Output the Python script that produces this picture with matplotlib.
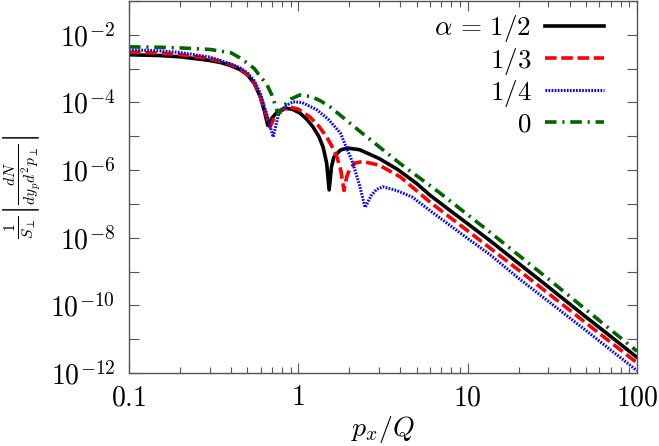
import matplotlib
matplotlib.use("Agg")
import math
import matplotlib.pyplot as plt
from matplotlib.ticker import LogLocator, FixedLocator, NullFormatter, FuncFormatter

plt.rcParams['mathtext.fontset'] = 'cm'
plt.rcParams['font.family'] = ['DejaVu Serif']

# --- data ---
x_half = [0.1, 0.15, 0.2, 0.263, 0.3, 0.35, 0.395, 0.45, 0.5, 0.55, 0.595, 0.63, 0.66,
          0.70, 0.75, 0.83, 0.92, 1.02, 1.12, 1.22, 1.32, 1.40, 1.47, 1.52, 1.57, 1.62,
          1.77, 1.94, 2.3, 3.0, 3.83, 5.0, 6.0, 8.0, 10, 13.5, 20, 30, 50, 70, 100]
y_half = [2.57e-3, 2.45e-3, 2.24e-3, 1.9e-3, 1.74e-3, 1.5e-3, 1.25e-3, 9.5e-4, 6.6e-4, 3.6e-4,
          1.5e-4, 5.6e-5, 2.1e-5, 3.5e-5, 5.2e-5, 6.8e-5, 6.3e-5, 4.9e-5, 3.2e-5, 1.9e-5,
          1.0e-5, 4.8e-6, 1.6e-6, 2.6e-7, 1.26e-6, 2.4e-6, 3.9e-6, 4.5e-6, 4.0e-6, 2.2e-6,
          1.07e-6, 4.0e-7, 1.8e-7, 6.0e-8, 2.6e-8, 8.3e-9, 1.74e-9, 3.5e-10, 4.5e-11,
          1.2e-11, 2.9e-12]

x_third = [0.1, 0.15, 0.2, 0.3, 0.395, 0.45, 0.5, 0.55, 0.6, 0.64, 0.68, 0.72, 0.78, 0.89,
           1.0, 1.17, 1.32, 1.47, 1.6, 1.69, 1.78, 1.86, 1.93, 2.0, 2.15, 2.4, 3.0, 4.0,
           6.0, 10, 20, 50, 100]
y_third = [3.1e-3, 2.9e-3, 2.6e-3, 2.0e-3, 1.35e-3, 1.0e-3, 6.8e-4, 3.8e-4, 1.4e-4, 5.0e-5,
           1.86e-5, 3.5e-5, 5.6e-5, 7.4e-5, 6.3e-5, 3.7e-5, 2.0e-5, 9.5e-6, 4.5e-6, 2.45e-6,
           1.0e-6, 2.5e-7, 6.3e-7, 1.0e-6, 1.6e-6, 1.8e-6, 1.4e-6, 6.3e-7, 1.12e-7, 1.6e-8,
           1.1e-9, 3.0e-11, 2.0e-12]

x_quarter = [0.1, 0.15, 0.2, 0.3, 0.395, 0.45, 0.5, 0.55, 0.6, 0.65, 0.71, 0.76, 0.84, 0.93,
             1.05, 1.29, 1.5, 1.77, 2.1, 2.3, 2.42, 2.48, 2.7, 2.9, 3.16, 3.8, 4.7, 6.0, 10,
             13.5, 20, 50, 100]
y_quarter = [3.6e-3, 3.4e-3, 3.0e-3, 2.2e-3, 1.4e-3, 1.08e-3, 7.6e-4, 4.3e-4, 1.7e-4, 4.5e-5,
             9.5e-6, 4.0e-5, 7.9e-5, 1.05e-4, 1.0e-4, 6.0e-5, 3.2e-5, 1.26e-5, 1.6e-6, 3.5e-7,
             1.26e-7, 7.9e-8, 1.8e-7, 2.7e-7, 3.2e-7, 2.5e-7, 1.6e-7, 6.3e-8, 9.5e-9, 3.2e-9,
             6.3e-10, 1.8e-11, 1.17e-12]

x_zero = [0.1, 0.15, 0.2, 0.3, 0.4, 0.45, 0.5, 0.55, 0.6, 0.65, 0.7, 0.76, 0.82, 0.9, 1.02,
          1.2, 1.35, 1.54, 2.37, 3.98, 6.86, 13.1, 30, 100]
y_zero = [4.4e-3, 4.3e-3, 4.1e-3, 3.7e-3, 2.95e-3, 2.1e-3, 1.45e-3, 1.0e-3, 5.6e-4, 3.5e-4,
          1.6e-4, 4.5e-5, 7.9e-5, 1.26e-4, 1.66e-4, 1.48e-4, 1.12e-4, 7.4e-5, 1.26e-5,
          1.58e-6, 2.1e-7, 1.66e-8, 6.0e-10, 4.4e-12]

labels = [r'$\alpha\,=\,1/2$', r'$1/3$', r'$1/4$', r'$0$']
x_ticks = [0.1, 1, 10, 100]
x_tick_labels = ['0.1', '1', '10', '100']

fig = plt.figure(figsize=(6.59, 4.46), dpi=100)
ax = fig.add_axes([129/659, 1 - 373/446, (637-129)/659, (373-1)/446])

ax.plot(x_half, y_half, color='black', lw=2.6, ls='-', label=labels[0])
ax.plot(x_third, y_third, color='#ff0000', lw=2.6, ls=(0, (3.2, 1.3)), label=labels[1])
ax.plot(x_quarter, y_quarter, color='#0000ff', lw=2.2, ls=(0, (0.55, 0.45)), label=labels[2])
ax.plot(x_zero, y_zero, color='#006400', lw=2.6, ls=(0, (3.2, 1.6, 0.6, 1.6)), label=labels[3])

ax.set_xscale('log')
ax.set_yscale('log')
ax.set_xlim(0.1, 100)
ax.set_ylim(1e-12, 1e-1)

ax.xaxis.set_major_locator(FixedLocator(x_ticks))
ax.xaxis.set_major_formatter(FuncFormatter(
    lambda v, p: '$' + x_tick_labels[x_ticks.index(v)] + '$' if v in x_ticks else ''))
ax.xaxis.set_minor_locator(LogLocator(base=10, subs=range(2, 10), numticks=20))
ax.xaxis.set_minor_formatter(NullFormatter())

yt = [10.0**k for k in range(-12, 0)]
ax.yaxis.set_major_locator(FixedLocator(yt))
def yfmt(v, p):
    k = int(round(math.log10(v)))
    return r'$10^{%d}$' % k if k % 2 == 0 else ''
ax.yaxis.set_major_formatter(FuncFormatter(yfmt))
ax.yaxis.set_minor_locator(FixedLocator([]))

spine_c = '#555555'
for s in ax.spines.values():
    s.set_color(spine_c)
    s.set_linewidth(1.0)
ax.tick_params(which='both', direction='in', top=True, right=True, color=spine_c, width=0.8)
ax.tick_params(which='major', length=7, labelsize=20, pad=8)
ax.tick_params(which='minor', length=4)
ax.tick_params(axis='y', pad=10)

ax.set_xlabel(r'$p_x/Q$', fontsize=20, labelpad=2)
ax.set_ylabel(r'$\frac{1}{S_\perp}\left|\frac{dN}{dy_p d^2p_\perp}\right|$', fontsize=16, labelpad=0)
ax.yaxis.set_label_coords(-0.17, 0.5)

leg = ax.legend(loc='upper right', bbox_to_anchor=(0.96, 1.0), frameon=False, markerfirst=False,
                fontsize=19.5, handlelength=2.2, handletextpad=0.5, labelspacing=0.05,
                borderaxespad=0.15, borderpad=0.3)

fig.savefig('out.png', dpi=100)
